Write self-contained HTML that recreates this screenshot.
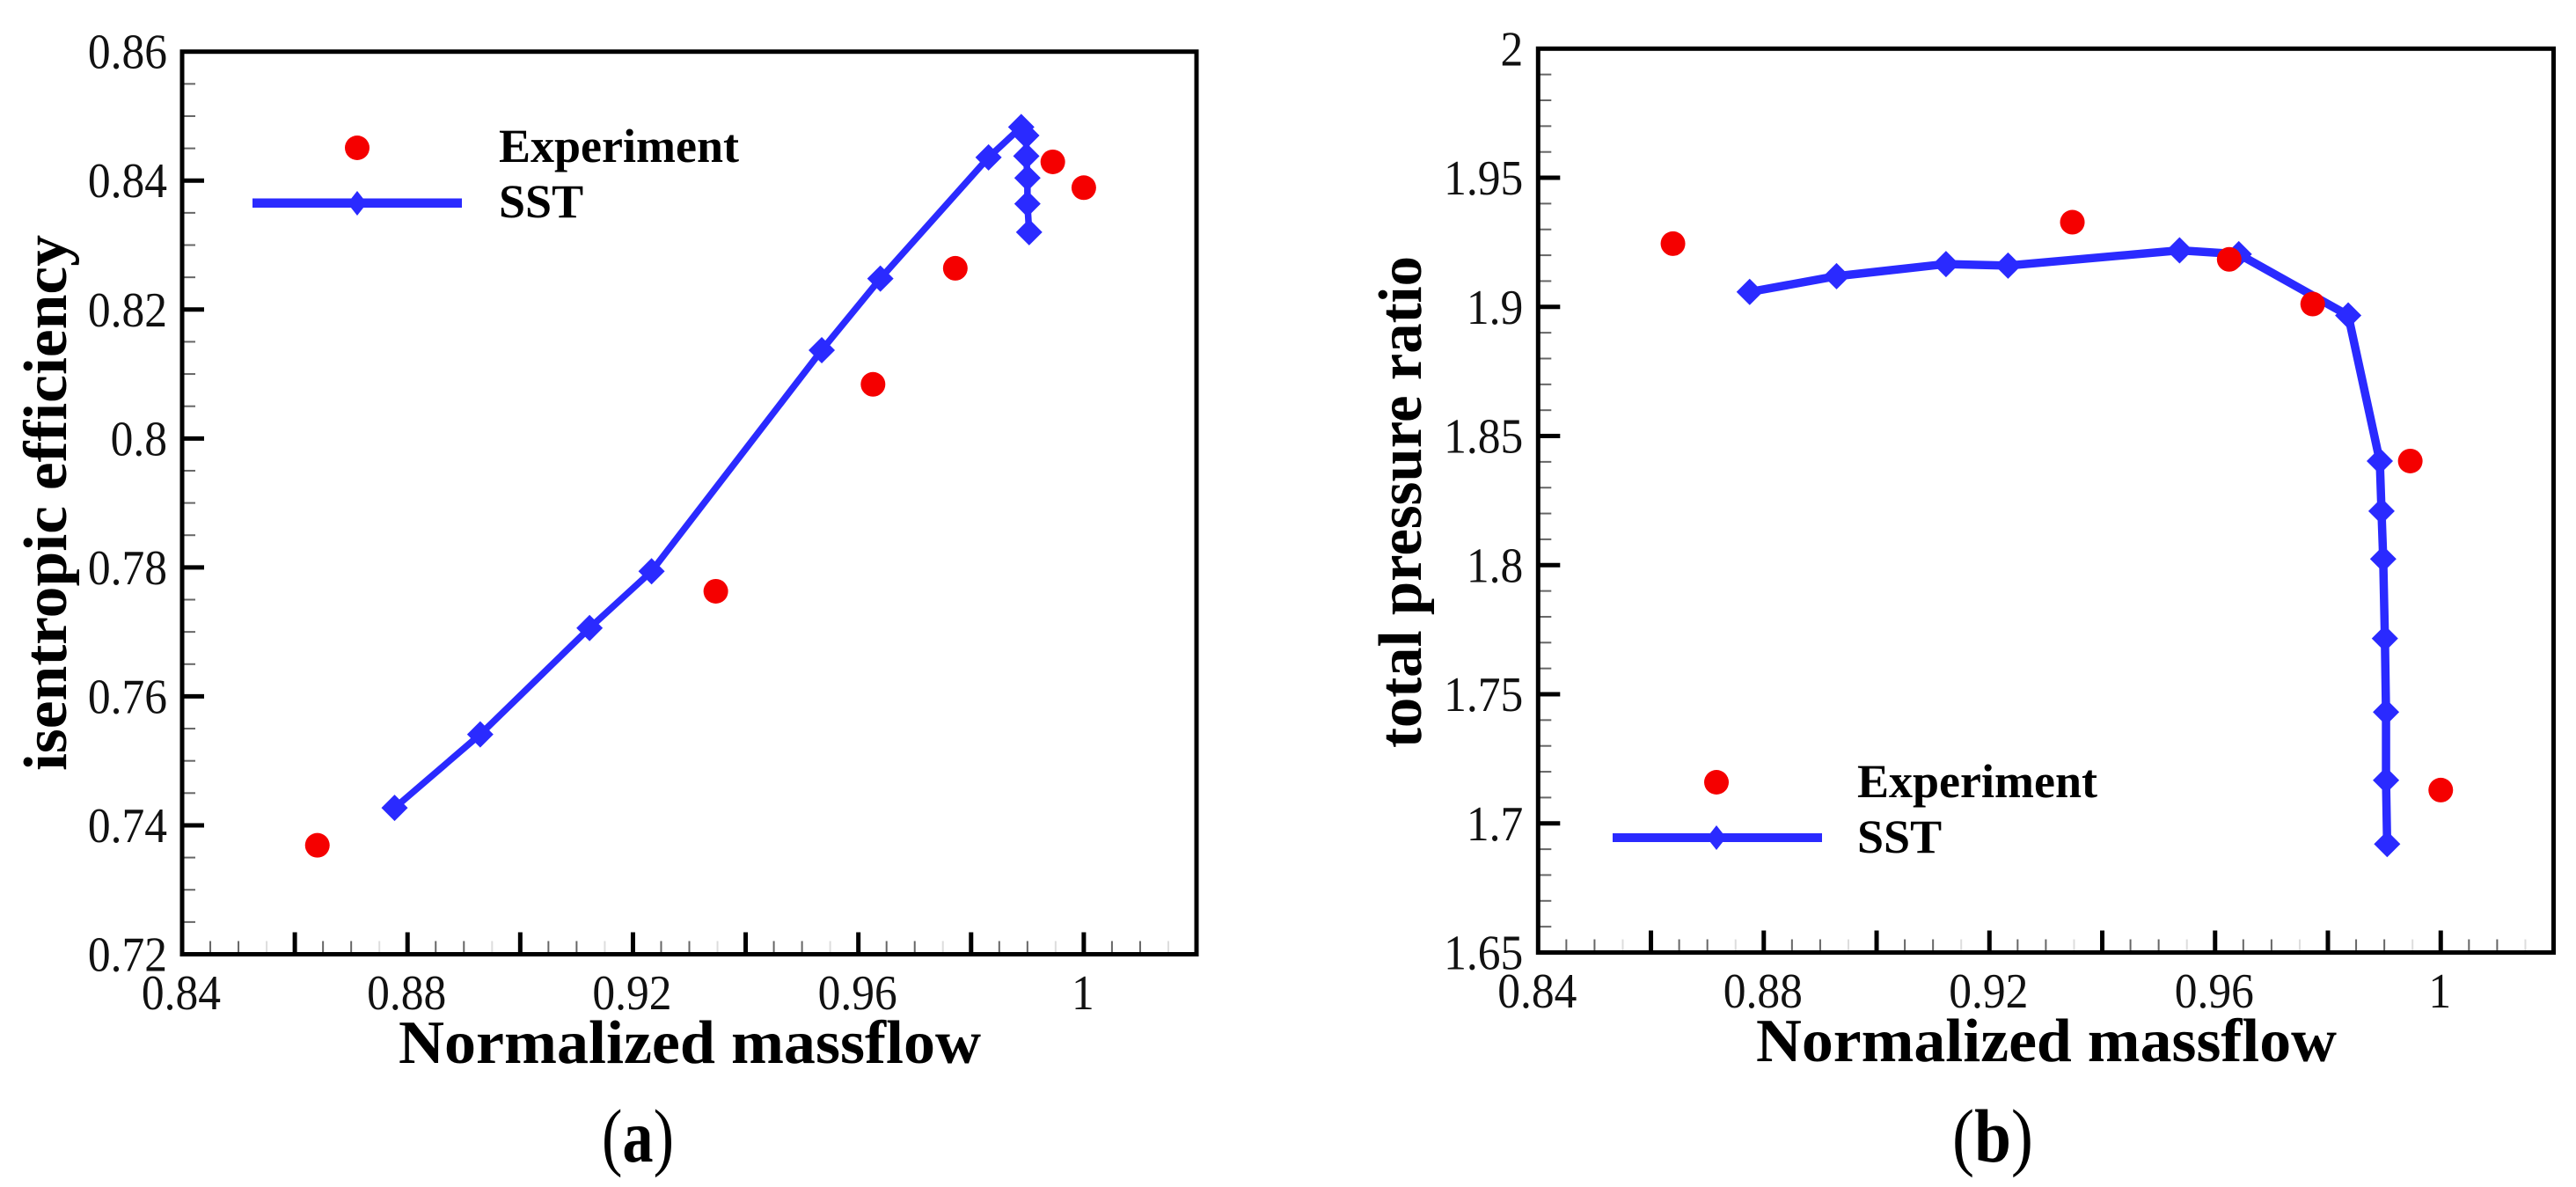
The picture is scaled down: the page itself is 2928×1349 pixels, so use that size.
<!DOCTYPE html>
<html lang="en">
<head>
<meta charset="utf-8">
<title>Normalized massflow performance maps</title>
<style>
html,body{margin:0;padding:0;background:#fff;width:2928px;height:1349px;overflow:hidden}
svg{display:block}
text{font-family:"Liberation Serif",serif;fill:#000}
.tick{font-size:56px;fill:#111}
.title{font-size:70px;font-weight:bold}
.leg{font-size:54px;font-weight:bold}
.cap{font-size:86px}
</style>
</head>
<body>
<svg id="figure" xmlns="http://www.w3.org/2000/svg" width="2928" height="1349" viewBox="0 0 2928 1349">
  <rect x="0" y="0" width="2928" height="1349" fill="#fff"/>
  <g id="panel-a"></g>
  <g id="panel-b"></g>

  <text class="title" x="453" y="1208" textLength="662" lengthAdjust="spacingAndGlyphs">Normalized massflow</text>
  <text class="title" transform="translate(75,876) rotate(-90)" textLength="609" lengthAdjust="spacingAndGlyphs">isentropic efficiency</text>
  <text class="title" x="1996" y="1206" textLength="660" lengthAdjust="spacingAndGlyphs">Normalized massflow</text>
  <text class="title" transform="translate(1615,850) rotate(-90)" textLength="559" lengthAdjust="spacingAndGlyphs">total pressure ratio</text>

  <g>
    <circle cx="406" cy="168" r="14" fill="#f50000"/>
    <rect x="287" y="225.5" width="238" height="10.5" fill="#2a2aff"/>
    <polygon points="406,217 417,231 406,245 395,231" fill="#2a2aff"/>
    <text class="leg" x="567" y="184">Experiment</text>
    <text class="leg" x="567" y="247">SST</text>
  </g>
  <g>
    <circle cx="1951" cy="889" r="14" fill="#f50000"/>
    <rect x="1833" y="947" width="238" height="10" fill="#2a2aff"/>
    <polygon points="1951,938 1962,952 1951,966 1940,952" fill="#2a2aff"/>
    <text class="leg" x="2111" y="906">Experiment</text>
    <text class="leg" x="2111" y="969">SST</text>
  </g>

  <text class="cap" x="684" y="1320" textLength="82" lengthAdjust="spacingAndGlyphs">(<tspan font-weight="bold">a</tspan>)</text>
  <text class="cap" x="2219" y="1320" textLength="92" lengthAdjust="spacingAndGlyphs">(<tspan font-weight="bold">b</tspan>)</text>
</svg>
<script>
// Shared x axis
const xMajorTicks = [0.84, 0.86, 0.88, 0.90, 0.92, 0.94, 0.96, 0.98, 1.0, 1.02];
const xTickValues = [0.84, 0.88, 0.92, 0.96, 1.0];
const xTickLabels = ["0.84", "0.88", "0.92", "0.96", "1"];

// Panel (a): isentropic efficiency
const aYTickValues = [0.72, 0.74, 0.76, 0.78, 0.80, 0.82, 0.84, 0.86];
const aYTickLabels = ["0.72", "0.74", "0.76", "0.78", "0.8", "0.82", "0.84", "0.86"];
const aExperimentX = [0.864, 0.9347, 0.9626, 0.9772, 0.9945, 1.0];
const aExperimentY = [0.7369, 0.7763, 0.8084, 0.8264, 0.8429, 0.8389];
const aSstX = [0.8777, 0.8929, 0.9123, 0.9233, 0.9535, 0.9639, 0.9831, 0.9889, 0.9898, 0.9898, 0.99, 0.99, 0.9903];
const aSstY = [0.7427, 0.7541, 0.7706, 0.7794, 0.8137, 0.8248, 0.8436, 0.8483, 0.847, 0.8438, 0.8404, 0.8364, 0.832];

// Panel (b): total pressure ratio
const bYTickValues = [1.65, 1.7, 1.75, 1.8, 1.85, 1.9, 1.95, 2.0];
const bYTickLabels = ["1.65", "1.7", "1.75", "1.8", "1.85", "1.9", "1.95", "2"];
const bExperimentX = [0.8639, 0.9347, 0.9625, 0.9773, 0.9946, 1.0];
const bExperimentY = [1.9245, 1.9328, 1.9184, 1.9011, 1.8403, 1.7129];
const bSstX = [0.8775, 0.8929, 0.9123, 0.9233, 0.9537, 0.9642, 0.9836, 0.9892, 0.9895, 0.9898, 0.9901, 0.9903, 0.9903, 0.9905];
const bSstY = [1.9058, 1.9119, 1.9166, 1.916, 1.9219, 1.9204, 1.8967, 1.8403, 1.8209, 1.8024, 1.7716, 1.7431, 1.7167, 1.692];

const NS = 'http://www.w3.org/2000/svg';
function make(parent, tag, attrs, text) {
  const el = document.createElementNS(NS, tag);
  for (const k in attrs) el.setAttribute(k, attrs[k]);
  if (text !== undefined) el.textContent = text;
  parent.appendChild(el);
  return el;
}

function drawPanel(cfg) {
  const root = document.getElementById(cfg.id);
  const xMin = xMajorTicks[0], xMax = xMajorTicks[xMajorTicks.length - 1];
  const yMin = cfg.yTicks[0], yMax = cfg.yTicks[cfg.yTicks.length - 1];
  const sx = v => cfg.left + (v - xMin) / (xMax - xMin) * (cfg.right - cfg.left);
  const sy = v => cfg.bottom - (v - yMin) / (yMax - yMin) * (cfg.bottom - cfg.top);

  // minor + major x ticks
  xMajorTicks.forEach((v, i) => {
    const x = sx(v);
    if (i > 0) {
      const t = make(root, 'line', {x1: x, x2: x, y1: cfg.bottom, y2: cfg.bottom - 25, stroke: '#000', 'stroke-width': 5});
      
      
    }
    if (i < xMajorTicks.length - 1) {
      const step = (xMajorTicks[i + 1] - v) / 4;
      [1, 2, 3].forEach(k => {
        const mx = sx(v + step * k);
        const m = make(root, 'line', {x1: mx, x2: mx, y1: cfg.bottom, y2: cfg.bottom - 15, stroke: k === 3 ? '#ddd' : '#666', 'stroke-width': 2});
        
        
      });
    }
  });
  // minor + major y ticks
  cfg.yTicks.forEach((v, i) => {
    const y = sy(v);
    if (i > 0 && i < cfg.yTicks.length - 1) {
      const t = make(root, 'line', {x1: cfg.left, x2: cfg.left + 25, y1: y, y2: y, stroke: '#000', 'stroke-width': 5});
      
      
    }
    if (i < cfg.yTicks.length - 1) {
      const step = (cfg.yTicks[i + 1] - v) / cfg.yMinorDiv;
      for (let k = 1; k < cfg.yMinorDiv; k++) {
        const my = sy(v + step * k);
        const m = make(root, 'line', {x1: cfg.left, x2: cfg.left + 15, y1: my, y2: my, stroke: '#666', 'stroke-width': 2});
        
        
      }
    }
    const lab = make(root, 'text', {
      class: 'tick', 'text-anchor': 'end',
      transform: 'translate(' + (cfg.left - 17) + ',' + (y + 19) + ') scale(0.92,1)'
    }, cfg.yLabels[i]);
    
    
  });
  xTickValues.forEach((v, i) => {
    const lab = make(root, 'text', {
      class: 'tick', 'text-anchor': 'middle',
      transform: 'translate(' + (sx(v) - 1) + ',' + (cfg.bottom + 62.5) + ') scale(0.92,1)'
    }, xTickLabels[i]);
    
    
  });

  // plot frame
  const frame = make(root, 'rect', {
    x: cfg.left, y: cfg.top, width: cfg.right - cfg.left, height: cfg.bottom - cfg.top,
    fill: 'none', stroke: '#000', 'stroke-width': 5
  });
  
  

  // SST line + diamonds
  const pts = cfg.sstX.map((v, i) => sx(v) + ',' + sy(cfg.sstY[i])).join(' ');
  const line = make(root, 'polyline', {points: pts, fill: 'none', stroke: '#2a2aff', 'stroke-width': cfg.lineWidth, 'stroke-linejoin': 'round'});
  
  
  cfg.sstX.forEach((v, i) => {
    const x = sx(v), y = sy(cfg.sstY[i]), r = 15;
    const d = make(root, 'polygon', {
      points: x + ',' + (y - r) + ' ' + (x + r) + ',' + y + ' ' + x + ',' + (y + r) + ' ' + (x - r) + ',' + y,
      fill: '#2a2aff'
    });
    
    
  });

  // Experiment circles
  cfg.expX.forEach((v, i) => {
    const c = make(root, 'circle', {cx: sx(v), cy: sy(cfg.expY[i]), r: 14, fill: '#f50000'});
    
    
  });
}

drawPanel({id: 'panel-a', left: 207, right: 1360, top: 58.7, bottom: 1084.5, yMinorDiv: 4,
  yTicks: aYTickValues, yLabels: aYTickLabels, expX: aExperimentX, expY: aExperimentY,
  sstX: aSstX, sstY: aSstY, lineWidth: 7.5});
drawPanel({id: 'panel-b', left: 1748.3, right: 2902.5, top: 55.3, bottom: 1082.5, yMinorDiv: 5,
  yTicks: bYTickValues, yLabels: bYTickLabels, expX: bExperimentX, expY: bExperimentY,
  sstX: bSstX, sstY: bSstY, lineWidth: 9.5});
</script>
</body>
</html>
